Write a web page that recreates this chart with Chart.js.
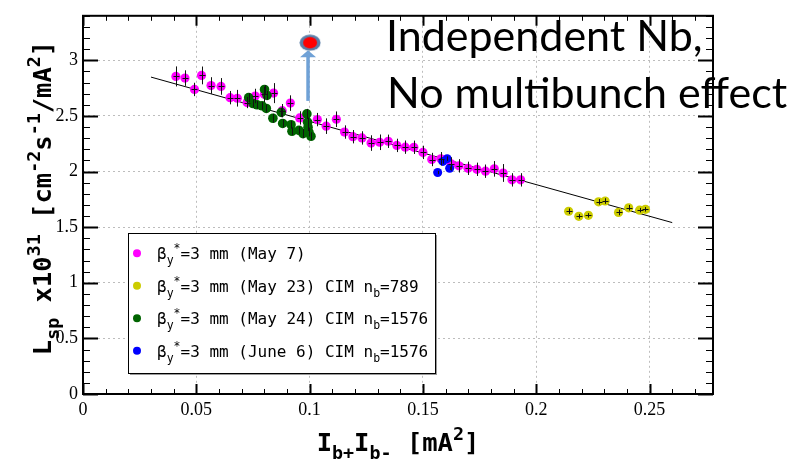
<!DOCTYPE html>
<html><head><meta charset="utf-8">
<script src="https://cdn.jsdelivr.net/npm/chart.js@4.4.0/dist/chart.umd.min.js"></script>
<style>html,body{margin:0;padding:0;background:#fff;}#wrap{width:802px;height:460px;position:relative;}</style>
</head><body><div id="wrap"><canvas id="c" width="802" height="460"></canvas></div>
<script>
// ---------- data ----------
const xTicks = [0, 0.05, 0.1, 0.15, 0.2, 0.25];
const yTicks = [0, 0.5, 1, 1.5, 2, 2.5, 3];

const may7X = [0.0410,0.0450,0.0492,0.0523,0.0565,0.0609,0.0649,0.0681,0.0724,0.0760,0.0800,0.0841,0.0879,0.0915,0.0956,0.1034,0.1073,0.1118,0.1154,0.1191,0.1231,0.1271,0.1309,0.1347,0.1385,0.1422,0.1460,0.1500,0.1539,0.1579,0.1625,0.1659,0.1699,0.1738,0.1776,0.1815,0.1854,0.1893,0.1931];
const may7Y = [2.855,2.840,2.738,2.864,2.773,2.765,2.664,2.659,2.620,2.679,2.694,2.705,2.547,2.615,2.482,2.467,2.408,2.470,2.355,2.313,2.302,2.256,2.263,2.272,2.235,2.219,2.218,2.172,2.108,2.115,2.068,2.051,2.029,2.020,2.003,2.024,1.987,1.925,1.925];
const may7Err = [0.09,0.07,0.06,0.08,0.075,0.075,0.06,0.075,0.05,0.065,0.07,0.09,0.06,0.07,0.06,0.06,0.07,0.07,0.06,0.06,0.06,0.07,0.07,0.06,0.06,0.06,0.06,0.06,0.06,0.06,0.06,0.06,0.06,0.06,0.06,0.07,0.08,0.06,0.06];

const may23X = [0.2143,0.2188,0.2230,0.2275,0.2304,0.2363,0.2408,0.2456,0.2482];
const may23Y = [1.643,1.597,1.606,1.728,1.735,1.632,1.674,1.653,1.660];
const may23Err = [0.025,0.02,0.02,0.025,0.025,0.025,0.025,0.02,0.02];

const may24X = [0.0731,0.0750,0.0768,0.0790,0.0801,0.0812,0.0809,0.0838,0.0875,0.0881,0.0918,0.0922,0.0953,0.0971,0.0988,0.0991,0.0997,0.1006,0.0993];
const may24Y = [2.664,2.611,2.600,2.591,2.738,2.685,2.567,2.479,2.532,2.432,2.421,2.362,2.370,2.341,2.518,2.444,2.355,2.317,2.399];
const may24Err = [0.04,0.035,0.035,0.035,0.04,0.04,0.035,0.04,0.04,0.035,0.035,0.035,0.035,0.04,0.045,0.04,0.04,0.035,0.035];

const june6X = [0.1565,0.1588,0.1607,0.1618];
const june6Y = [1.991,2.091,2.116,2.029];
const june6Err = [0.015,0.02,0.02,0.015];

const fitX = [0.030, 0.260];
const fitY = [2.849, 1.541];

const expectX = [0.1002];
const expectY = [3.158];
const arrowX = 0.0993, arrowFromY = 2.635, arrowToY = 3.09;

const seriesLabels = [
  {color:'#ff00ff', parts:[['β','n'],['y','sub'],['*','sup'],['=3 mm (May 7)','n']]},
  {color:'#cccc00', parts:[['β','n'],['y','sub'],['*','sup'],['=3 mm (May 23) CIM n','n'],['b','sub'],['=789','n']]},
  {color:'#006400', parts:[['β','n'],['y','sub'],['*','sup'],['=3 mm (May 24) CIM n','n'],['b','sub'],['=1576','n']]},
  {color:'#0000ff', parts:[['β','n'],['y','sub'],['*','sup'],['=3 mm (June 6) CIM n','n'],['b','sub'],['=1576','n']]}
];
const noteLines = ['Independent Nb,', 'No multibunch effect'];

// ---------- helpers ----------
const pts = (xs, ys) => xs.map((x, i) => ({x: x, y: ys[i]}));

const redImg = document.createElement('canvas');
redImg.width = 22; redImg.height = 17;
(function(){
  const g = redImg.getContext('2d');
  g.fillStyle = '#5a7ea8';
  g.beginPath(); g.ellipse(11, 8.5, 10.5, 8, 0, 0, Math.PI*2); g.fill();
  g.fillStyle = '#ff0000';
  g.beginPath(); g.ellipse(11, 8.5, 7, 5.8, 0, 0, Math.PI*2); g.fill();
})();

function richWidth(ctx, parts, size, family, weight, r){
  let w = 0;
  for (const [t,k] of parts){
    const s = k === 'n' ? size : size*r;
    ctx.font = `${weight} ${s}px ${family}`;
    w += ctx.measureText(t).width;
  }
  return w;
}
function richText(ctx, x, y, parts, size, family, weight, r){
  let cx = x;
  ctx.textBaseline = 'alphabetic'; ctx.textAlign = 'left';
  for (const [t,k] of parts){
    const s = k === 'n' ? size : size*r;
    const dy = k === 'sub' ? size*0.3 : (k === 'sup' ? -size*0.45 : 0);
    ctx.font = `${weight} ${s}px ${family}`;
    ctx.fillText(t, cx, y + dy);
    cx += ctx.measureText(t).width;
  }
  return cx - x;
}

const errorBars = {
  id: 'errorBars',
  afterDatasetsDraw(chart){
    const ctx = chart.ctx, xs = chart.scales.x, ys = chart.scales.y;
    ctx.save();
    ctx.strokeStyle = '#111'; ctx.lineWidth = 1;
    chart.data.datasets.forEach(ds => {
      if (!ds.errors) return;
      ds.data.forEach((p, i) => {
        const px = Math.round(xs.getPixelForValue(p.x)) + 0.5;
        const py = ys.getPixelForValue(p.y);
        const e = ds.errors[i];
        ctx.beginPath();
        ctx.moveTo(px, ys.getPixelForValue(p.y - e));
        ctx.lineTo(px, ys.getPixelForValue(p.y + e));
        if (ds.cap){
          ctx.moveTo(px - ds.cap, Math.round(py) + 0.5);
          ctx.lineTo(px + ds.cap, Math.round(py) + 0.5);
        }
        ctx.stroke();
      });
    });
    ctx.restore();
  }
};

const arrowPlugin = {
  id: 'arrowPlugin',
  beforeDatasetsDraw(chart){
    const ctx = chart.ctx, xs = chart.scales.x, ys = chart.scales.y;
    const x = xs.getPixelForValue(arrowX);
    const y0 = ys.getPixelForValue(arrowFromY);
    const tip = ys.getPixelForValue(arrowToY);
    ctx.save();
    ctx.strokeStyle = '#6fa1d6'; ctx.fillStyle = '#6fa1d6';
    ctx.lineWidth = 3.5;
    ctx.beginPath(); ctx.moveTo(x, y0); ctx.lineTo(x, tip + 6); ctx.stroke();
    ctx.beginPath(); ctx.moveTo(x - 8, tip + 7); ctx.lineTo(x + 8, tip + 7); ctx.lineTo(x, tip); ctx.closePath(); ctx.fill();
    ctx.restore();
  }
};

const decor = {
  id: 'decor',
  afterDraw(chart){
    const ctx = chart.ctx, xs = chart.scales.x, ys = chart.scales.y, ca = chart.chartArea;
    ctx.save();
    ctx.strokeStyle = '#000';
    const xMax = xs.max, yMax = ys.max;
    for (let i = 0; i * 0.01 <= xMax + 1e-9; i++){
      const major = i % 5 === 0;
      const px = Math.round(xs.getPixelForValue(i*0.01)) + 0.5;
      const L = major ? 10 : 5;
      ctx.lineWidth = major ? 2 : 1;
      ctx.beginPath();
      ctx.moveTo(px, ca.bottom); ctx.lineTo(px, ca.bottom - L);
      ctx.moveTo(px, ca.top); ctx.lineTo(px, ca.top + L);
      ctx.stroke();
    }
    for (let i = 0; i * 0.1 <= yMax + 1e-9; i++){
      const major = i % 5 === 0;
      const py = Math.round(ys.getPixelForValue(i*0.1)) + 0.5;
      const L = major ? 15 : 7;
      ctx.lineWidth = major ? 2 : 1;
      ctx.beginPath();
      ctx.moveTo(ca.left, py); ctx.lineTo(ca.left + L, py);
      ctx.moveTo(ca.right, py); ctx.lineTo(ca.right - L, py);
      ctx.stroke();
    }
    ctx.lineWidth = 2;
    ctx.strokeRect(ca.left, ca.top, ca.width, ca.height);

    // axis titles
    ctx.fillStyle = '#000';
    const fam = '"DejaVu Sans Mono"';
    const TS = 25.5;
    const xParts = [['I','n'],['b+','sub'],['I','n'],['b-','sub'],[' [mA','n'],['2','sup'],[']','n']];
    const wx = richWidth(ctx, xParts, TS, fam, 'bold', 0.72);
    richText(ctx, (ca.left + ca.right)/2 - wx/2, 451, xParts, TS, fam, 'bold', 0.72);

    const yParts = [['L','n'],['sp','sub'],[' x10','n'],['31','sup'],[' [cm','n'],['-2','sup'],['s','n'],['-1','sup'],['/mA','n'],['2','sup'],[']','n']];
    const wy = richWidth(ctx, yParts, TS, fam, 'bold', 0.72);
    ctx.save();
    ctx.translate(51, 198 + wy/2);
    ctx.rotate(-Math.PI/2);
    richText(ctx, 0, 0, yParts, TS, fam, 'bold', 0.72);
    ctx.restore();

    // legend box
    const bx = 128, by = 233, bw = 307, bh = 140;
    ctx.fillStyle = '#9a9a9a';
    ctx.fillRect(bx + 2, by + 2, bw, bh);
    ctx.fillStyle = '#fff';
    ctx.fillRect(bx, by, bw, bh);
    ctx.lineWidth = 1; ctx.strokeStyle = '#000';
    ctx.strokeRect(bx + 0.5, by + 0.5, bw, bh);
    seriesLabels.forEach((s, i) => {
      const cy = 253.3 + i * 32.5;
      ctx.fillStyle = s.color;
      ctx.beginPath(); ctx.arc(137, cy, 4, 0, Math.PI*2); ctx.fill();
      ctx.fillStyle = '#000';
      richText(ctx, 157, cy + 6, s.parts, 16, '"DejaVu Sans Mono"', 'normal', 0.72);
    });

    // annotation text
    ctx.fillStyle = '#000';
    ctx.font = '43px Lato';
    ctx.textAlign = 'left'; ctx.textBaseline = 'alphabetic';
    ctx.fillText(noteLines[0], 386, 51);
    ctx.fillText(noteLines[1], 387, 108);
    ctx.restore();
  }
};

const tickFont = {family: '"Liberation Serif"', size: 18};

new Chart(document.getElementById('c'), {
  type: 'scatter',
  data: {
    datasets: [
      {data: pts(expectX, expectY), pointStyle: redImg, pointRadius: 10, order: 0},
      {data: pts(june6X, june6Y), backgroundColor: '#0000ff', borderWidth: 0, pointRadius: 4.5, errors: june6Err, cap: 0, order: 1},
      {data: pts(may24X, may24Y), backgroundColor: '#006400', borderWidth: 0, pointRadius: 4.8, errors: may24Err, cap: 0, order: 2},
      {data: pts(may7X, may7Y), backgroundColor: '#ff00ff', borderWidth: 0, pointRadius: 4.6, errors: may7Err, cap: 3, order: 3},
      {data: pts(may23X, may23Y), backgroundColor: '#cccc00', borderWidth: 0, pointRadius: 4.6, errors: may23Err, cap: 3, order: 4},
      {data: pts(fitX, fitY), showLine: true, borderColor: '#000', borderWidth: 1, pointRadius: 0, order: 5}
    ]
  },
  options: {
    responsive: false,
    animation: false,
    devicePixelRatio: 1,
    layout: {padding: {left: 0, top: 8, right: 89, bottom: 0}},
    plugins: {legend: {display: false}, tooltip: {enabled: false}},
    scales: {
      x: {
        type: 'linear', min: 0, max: 0.278,
        afterBuildTicks: s => { s.ticks = xTicks.map(v => ({value: v})); },
        afterFit: s => { s.height = 66; },
        ticks: {font: tickFont, color: '#000', padding: 5, maxRotation: 0, callback: v => String(v)},
        grid: {color: '#bdbdbd', lineWidth: 1, drawTicks: false},
        border: {display: false, dash: [2, 3]}
      },
      y: {
        type: 'linear', min: 0, max: 3.4,
        afterBuildTicks: s => { s.ticks = yTicks.map(v => ({value: v})); },
        afterFit: s => { s.width = 83; },
        ticks: {font: tickFont, color: '#000', padding: 5, callback: v => String(v)},
        grid: {color: '#bdbdbd', lineWidth: 1, drawTicks: false},
        border: {display: false, dash: [2, 3]}
      }
    }
  },
  plugins: [arrowPlugin, errorBars, decor]
});
</script>
</body></html>
